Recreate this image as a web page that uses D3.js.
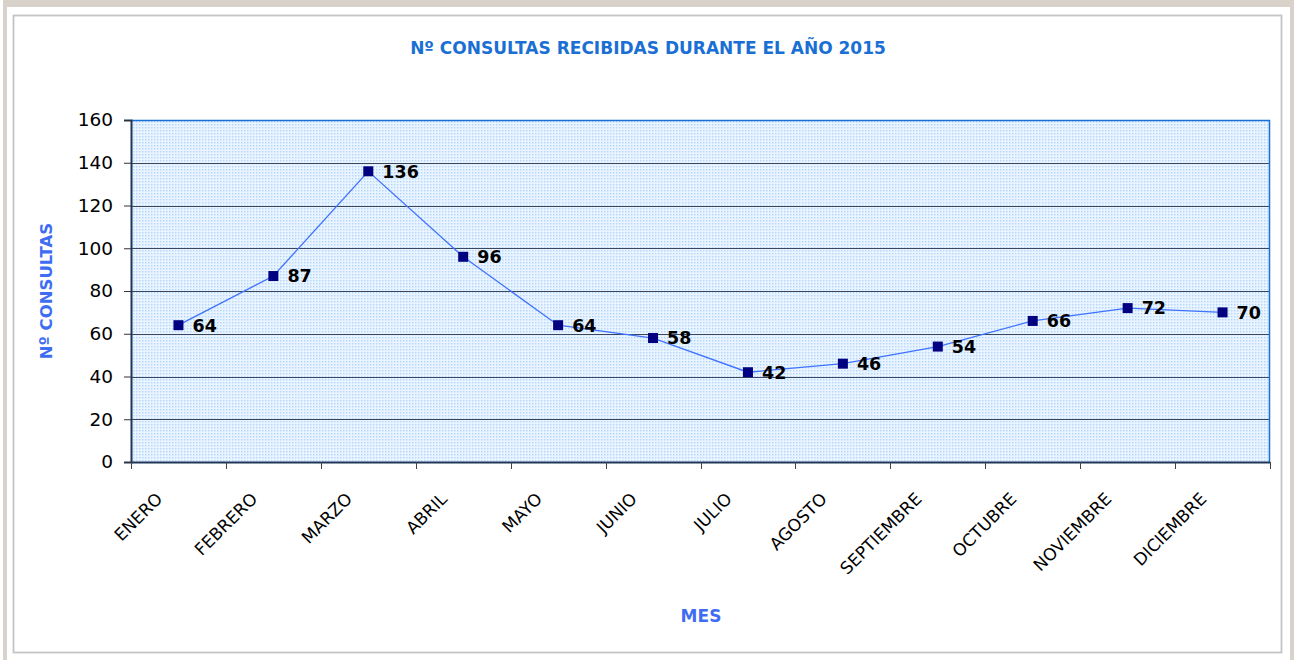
<!DOCTYPE html>
<html>
<head>
<meta charset="utf-8">
<script src="https://cdn.jsdelivr.net/npm/d3@7"></script>
<style>
  html, body { margin: 0; padding: 0; background: #fff; }
  svg { display: block; }
</style>
</head>
<body>
<svg id="chart" width="1294" height="660"></svg>
<script>
// Monthly inquiries received in 2015
const months = ["ENERO", "FEBRERO", "MARZO", "ABRIL", "MAYO", "JUNIO", "JULIO",
                "AGOSTO", "SEPTIEMBRE", "OCTUBRE", "NOVIEMBRE", "DICIEMBRE"];
const consultas = [64, 87, 136, 96, 64, 58, 42, 46, 54, 66, 72, 70];
const yTicks = [0, 20, 40, 60, 80, 100, 120, 140, 160];

const chartTitle = "Nº CONSULTAS RECIBIDAS DURANTE EL AÑO 2015";
const yTitle = "Nº CONSULTAS";
const xTitle = "MES";

const svg = d3.select("#chart");
const W = 1294, H = 660;
const FONT = "'DejaVu Sans', Verdana, sans-serif";

// outer frame
svg.append("rect").attr("x", 3).attr("y", 0).attr("width", W - 3).attr("height", H).attr("fill", "#d9d2cb");
svg.append("rect").attr("x", 7).attr("y", 7).attr("width", W - 11).attr("height", H).attr("fill", "#ffffff");
svg.append("rect").attr("x", 13.5).attr("y", 15.5).attr("width", 1268).attr("height", 637)
  .attr("fill", "#fff").attr("stroke", "#c4c4c4").attr("stroke-width", 1.8);

const plot = { left: 131, right: 1270, top: 120, bottom: 462 };

const x = d3.scaleBand().domain(months).range([plot.left, plot.right]);
const y = d3.scaleLinear().domain([0, 160]).range([plot.bottom, plot.top]);

// dotted plot-area fill
const defs = svg.append("defs");
const pat = defs.append("pattern").attr("id", "dots")
  .attr("width", 3).attr("height", 3).attr("patternUnits", "userSpaceOnUse");
pat.append("rect").attr("width", 3).attr("height", 3).attr("fill", "#e9f4ff");
pat.append("rect").attr("x", 1).attr("y", 1).attr("width", 1.4).attr("height", 1.4).attr("fill", "#b3d6ff");

svg.append("rect")
  .attr("x", plot.left).attr("y", plot.top)
  .attr("width", plot.right - plot.left).attr("height", plot.bottom - plot.top)
  .attr("fill", "url(#dots)");

// horizontal gridlines
svg.append("g").selectAll("line").data(yTicks.filter(d => d > 0 && d < 160)).join("line")
  .attr("x1", plot.left).attr("x2", plot.right)
  .attr("y1", d => Math.round(y(d)) + 0.5).attr("y2", d => Math.round(y(d)) + 0.5)
  .attr("stroke", "#3a4660").attr("stroke-width", 1);

// top / right border of plot area
svg.append("path")
  .attr("d", `M${plot.left},${plot.top + 0.5}H${plot.right - 0.5}V${plot.bottom}`)
  .attr("fill", "none").attr("stroke", "#1b6fd6").attr("stroke-width", 1.5);

// y axis
const yAxis = svg.append("g")
  .attr("transform", `translate(${plot.left},0)`)
  .call(d3.axisLeft(y).tickValues(yTicks).tickSize(7).tickPadding(11).tickFormat(d3.format("d")));
yAxis.select(".domain").attr("stroke", "#1f3558").attr("stroke-width", 2);
yAxis.selectAll(".tick line").attr("stroke", "#333");
yAxis.selectAll("text").attr("font-family", FONT).attr("font-size", 18.5).attr("fill", "#000");

// x axis with ticks at category boundaries
const bounds = months.map(m => x(m)).concat([plot.right]);
const xAxisG = svg.append("g");
xAxisG.append("line").attr("x1", plot.left).attr("x2", plot.right)
  .attr("y1", plot.bottom + 0.5).attr("y2", plot.bottom + 0.5)
  .attr("stroke", "#1f3558").attr("stroke-width", 2);
xAxisG.selectAll("line.tk").data(bounds).join("line").attr("class", "tk")
  .attr("x1", d => Math.round(d) + 0.5).attr("x2", d => Math.round(d) + 0.5)
  .attr("y1", plot.bottom).attr("y2", plot.bottom + 7)
  .attr("stroke", "#444").attr("stroke-width", 1);

// rotated month labels
xAxisG.selectAll("text").data(months).join("text")
  .attr("transform", d => `translate(${x(d) + x.bandwidth() / 2 - 15},${plot.bottom + 38}) rotate(-45)`)
  .attr("text-anchor", "end")
  .attr("font-family", FONT).attr("font-size", 17).attr("fill", "#000")
  .text(d => d);

// series line
const line = d3.line().x((d, i) => x(months[i]) + x.bandwidth() / 2).y(d => y(d));
svg.append("path").datum(consultas)
  .attr("d", line).attr("fill", "none").attr("stroke", "#3f72ff").attr("stroke-width", 1.3);

// markers
svg.append("g").selectAll("rect").data(consultas).join("rect")
  .attr("x", (d, i) => x(months[i]) + x.bandwidth() / 2 - 5)
  .attr("y", d => y(d) - 5)
  .attr("width", 10).attr("height", 10)
  .attr("fill", "#000080");

// value labels
svg.append("g").selectAll("text").data(consultas).join("text")
  .attr("x", (d, i) => x(months[i]) + x.bandwidth() / 2 + 14)
  .attr("y", d => y(d))
  .attr("dy", "0.36em")
  .attr("font-family", FONT).attr("font-size", 17.5).attr("font-weight", "bold").attr("fill", "#000")
  .text(d => d);

// titles
svg.append("text").attr("x", 648).attr("y", 54).attr("text-anchor", "middle")
  .attr("font-family", FONT).attr("font-size", 17).attr("font-weight", "bold").attr("fill", "#1a6fd4")
  .text(chartTitle);

svg.append("text").attr("transform", `translate(52,${(plot.top + plot.bottom) / 2}) rotate(-90)`)
  .attr("text-anchor", "middle")
  .attr("font-family", FONT).attr("font-size", 16.5).attr("font-weight", "bold").attr("fill", "#3f6df2")
  .text(yTitle);

svg.append("text").attr("x", 701).attr("y", 622).attr("text-anchor", "middle")
  .attr("font-family", FONT).attr("font-size", 17).attr("font-weight", "bold").attr("fill", "#3f6df2")
  .text(xTitle);
</script>
</body>
</html>
